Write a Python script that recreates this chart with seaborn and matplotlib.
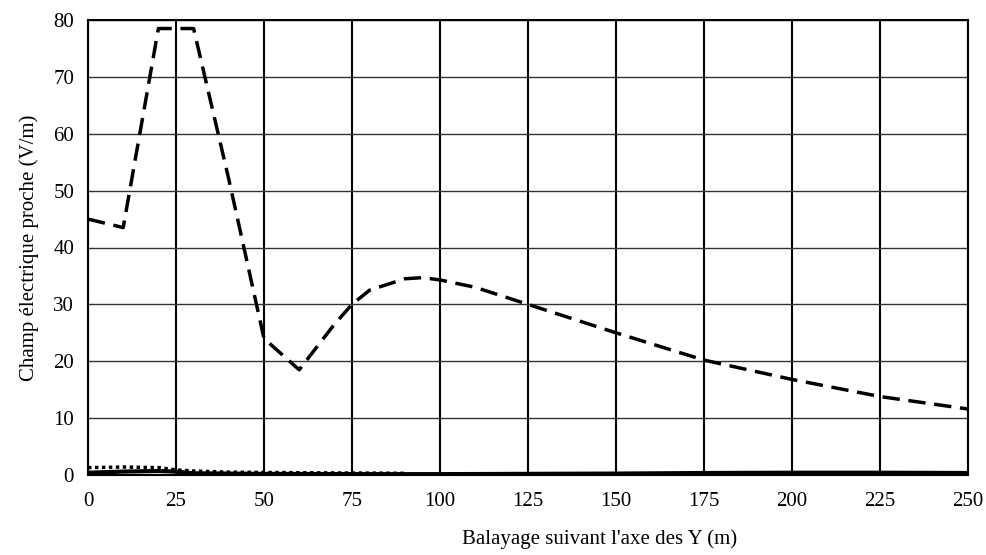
import matplotlib
matplotlib.use("Agg")
import matplotlib.pyplot as plt
import seaborn as sns
import pandas as pd

# Dashed series (main near field)
x_dash = [0, 10, 20, 30, 40, 50, 60, 70, 75, 80, 90, 95, 100, 110, 125, 150, 175, 200, 225, 250]
y_dash = [45, 43.5, 78.5, 78.5, 52, 24, 18.5, 26.5, 30, 32.5, 34.5, 34.7, 34.3, 33, 30, 25, 20.2, 16.8, 13.8, 11.6]

# Dotted series
x_dot = [0, 10, 20, 25, 30, 40, 50, 60, 75, 90]
y_dot = [1.3, 1.4, 1.3, 0.9, 0.7, 0.5, 0.45, 0.4, 0.35, 0.3]

# Solid series
x_sol = [0, 10, 20, 25, 30, 50, 75, 100, 125, 150, 175, 200, 225, 250]
y_sol = [0.4, 0.6, 0.7, 0.6, 0.3, 0.2, 0.15, 0.15, 0.2, 0.25, 0.35, 0.4, 0.4, 0.35]

x_ticks = [0, 25, 50, 75, 100, 125, 150, 175, 200, 225, 250]
y_ticks = [0, 10, 20, 30, 40, 50, 60, 70, 80]

sns.set_theme(style="white")
plt.rcParams['font.family'] = ['Liberation Serif', 'DejaVu Serif']

fig = plt.figure(figsize=(9.87, 5.55), dpi=100)
ax = fig.add_axes([88/987, 80/555, 880/987, 455/555])

df_dash = pd.DataFrame({"x": x_dash, "y": y_dash})
df_dot = pd.DataFrame({"x": x_dot, "y": y_dot})
df_sol = pd.DataFrame({"x": x_sol, "y": y_sol})

sns.lineplot(data=df_dash, x="x", y="y", ax=ax, color="black", lw=2.5, zorder=5)
ax.lines[-1].set_dashes([5, 2.5])
sns.lineplot(data=df_dot, x="x", y="y", ax=ax, color="black", lw=2.5, zorder=5)
ax.lines[-1].set_dashes([1, 1])
sns.lineplot(data=df_sol, x="x", y="y", ax=ax, color="black", lw=3, zorder=5)

ax.set_xlim(0, 250)
ax.set_ylim(0, 80)
ax.set_xticks(x_ticks)
ax.set_yticks(y_ticks)
ax.tick_params(axis='both', labelsize=15, length=0, colors='black')
ax.tick_params(axis='x', pad=12)
ax.tick_params(axis='y', pad=10)
ax.grid(True, axis='x', color='black', lw=1.5)
ax.grid(True, axis='y', color='#333333', lw=1)
ax.set_axisbelow(True)
for s in ax.spines.values():
    s.set_color('black')
    s.set_linewidth(1.5)

ax.set_xlabel("Balayage suivant l'axe des Y (m)", fontsize=15, color='black')
ax.xaxis.set_label_coords((600 - 88) / 880, -(529 - 475) / 455)
ax.set_ylabel("Champ électrique proche (V/m)", fontsize=15, color='black', labelpad=10)

fig.savefig("out.png", dpi=100, facecolor='white')
